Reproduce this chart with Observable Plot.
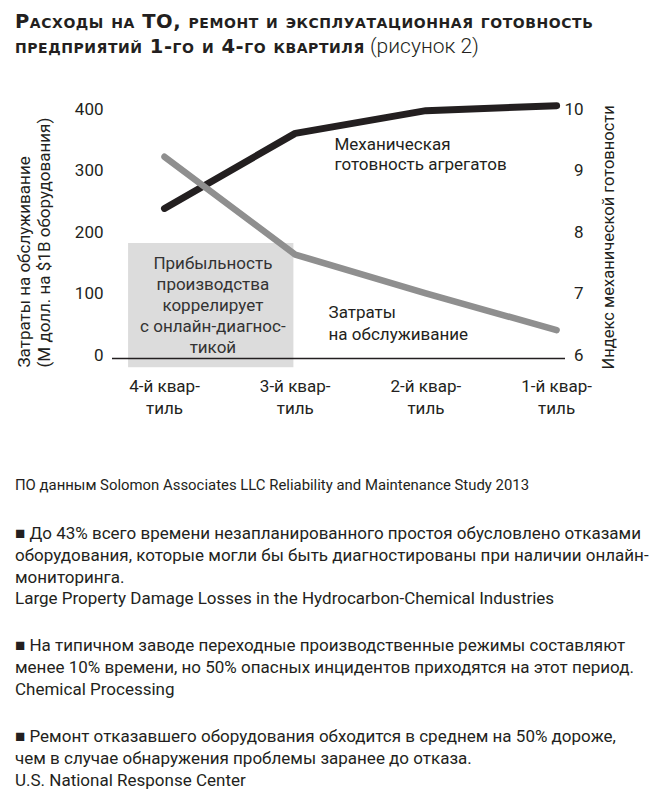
<!DOCTYPE html>
<html>
<head>
<meta charset="utf-8">
<script src="https://cdn.jsdelivr.net/npm/d3@7"></script>
<script src="https://cdn.jsdelivr.net/npm/@observablehq/plot@0.6"></script>
<style>
  html, body { margin: 0; padding: 0; background: #fff; }
  body { width: 650px; height: 791px; position: relative; overflow: hidden; color: #231f20; font-family: Roboto, sans-serif; }
  .title { position: absolute; left: 15px; top: 10px; font-family: "DejaVu Sans", sans-serif; font-weight: bold; font-variant: small-caps; font-size: 19.5px; letter-spacing: 0.55px; line-height: 24px; white-space: nowrap; color: #231f20; }
  .title .fig { font-family: Roboto, sans-serif; font-weight: 300; font-variant: normal; letter-spacing: 0; font-size: 21px; }
  #chart { position: absolute; left: 0; top: 62px; }
  .note { position: absolute; left: 15px; white-space: nowrap; font-size: 17px; line-height: 21.8px; color: #231f20; }
  .src { font-size: 14.9px; }
</style>
</head>
<body>
<div class="title" id="title"></div>
<div id="chart"></div>
<div class="note src" id="source" style="top:475px"></div>
<div class="note" id="b1" style="top:523px"></div>
<div class="note" id="b2" style="top:635px"></div>
<div class="note" id="b3" style="top:726px"></div>
<script>
// ---- data ----
const quartiles = ["4-й квар-\nтиль", "3-й квар-\nтиль", "2-й квар-\nтиль", "1-й квар-\nтиль"];
const quartileIndex = [0, 1, 2, 3];
const maintenanceCost = [328, 169, 106, 46];               // M$ per $1B equipment (left axis)
const mechanicalAvailability = [8.44, 9.66, 10.03, 10.11]; // index (right axis)
const costTicks = [0, 100, 200, 300, 400];
const availabilityTicks = [6, 7, 8, 9, 10];

const titleLine1 = "Расходы на ТО, ремонт и эксплуатационная готовность";
const titleLine2 = "предприятий 1-го и 4-го квартиля";
const titleFig = " (рисунок 2)";
const yLabelLeft = "Затраты на обслуживание\n(М долл. на $1B оборудования)";
const yLabelRight = "Индекс механической готовности";
const boxText = "Прибыльность\nпроизводства\nкоррелирует\nс онлайн-диагнос-\nтикой";
const availabilityLabel = "Механическая\nготовность агрегатов";
const costLabel = "Затраты\nна обслуживание";
const sourceText = "ПО данным Solomon Associates LLC Reliability and Maintenance Study 2013";
const bullet1 = ["■ До 43% всего времени незапланированного простоя обусловлено отказами",
  "оборудования, которые могли бы быть диагностированы при наличии онлайн-",
  "мониторинга.",
  "Large Property Damage Losses in the Hydrocarbon-Chemical Industries"];
const bullet2 = ["■ На типичном заводе переходные производственные режимы составляют",
  "менее 10% времени, но 50% опасных инцидентов приходятся на этот период.",
  "Chemical Processing"];
const bullet3 = ["■ Ремонт отказавшего оборудования обходится в среднем на 50% дороже,",
  "чем в случае обнаружения проблемы заранее до отказа.",
  "U.S. National Response Center"];

// ---- derived tables ----
const toLeft = v => (v - 6) * 100; // right-axis index mapped onto the left scale
const costData = quartileIndex.map((i, k) => ({i, v: maintenanceCost[k]}));
const availData = quartileIndex.map((i, k) => ({i, v: toLeft(mechanicalAvailability[k])}));

document.getElementById("title").innerHTML =
  titleLine1 + "<br>" + titleLine2 + '<span class="fig">' + titleFig + "</span>";
document.getElementById("source").textContent = sourceText;
document.getElementById("b1").innerHTML = bullet1.join("<br>");
document.getElementById("b2").innerHTML = bullet2.join("<br>");
document.getElementById("b3").innerHTML = bullet3.join("<br>");

const ink = "#231f20";
const chart = Plot.plot({
  width: 650,
  height: 360,
  marginLeft: 112,
  marginRight: 85,
  marginTop: 50,
  marginBottom: 64,
  x: {type: "linear", domain: [-0.398, 3.068], axis: null},
  y: {domain: [0, 400], axis: null},
  style: {fontFamily: "Roboto, sans-serif", fontSize: "17px", color: ink, background: "transparent"},
  marks: [
    Plot.rect([{x1: -0.275, x2: 0.99, y1: -15, y2: 187}], {x1: "x1", x2: "x2", y1: "y1", y2: "y2", fill: "#dcdcdc"}),
    Plot.ruleY([0], {stroke: ink, strokeWidth: 1.3}),
    Plot.axisY({anchor: "left", ticks: costTicks, tickSize: 0, tickPadding: 9, dy: -3, label: null, fontSize: 17}),
    Plot.axisY({anchor: "right", ticks: availabilityTicks.map(toLeft), tickFormat: d => String(d / 100 + 6),
      tickSize: 0, tickPadding: 18, textAnchor: "end", dy: -3, label: null, fontSize: 17}),
    Plot.axisX({anchor: "bottom", ticks: quartileIndex, tickFormat: i => quartiles[i], tickSize: 0, tickPadding: 18,
      lineHeight: 1.3, label: null, fontSize: 17}),
    Plot.text([boxText], {x: () => 0.37, y: () => 88, text: d => d, lineHeight: 21 / 17, fill: "#333", fontSize: 17}),
    Plot.line(availData, {x: "i", y: "v", stroke: ink, strokeWidth: 7, strokeLinecap: "round", strokeLinejoin: "round"}),
    Plot.line(costData, {x: "i", y: "v", stroke: "#8f8f8f", strokeWidth: 6.5, strokeLinecap: "round", strokeLinejoin: "round"}),
    Plot.text([availabilityLabel], {x: () => 1.30, y: () => 333, text: d => d, textAnchor: "start", lineHeight: 20 / 17, fontSize: 17}),
    Plot.text([costLabel], {x: () => 1.255, y: () => 59, text: d => d, textAnchor: "start", lineHeight: 22 / 17, fontSize: 17}),
    Plot.text([yLabelLeft], {frameAnchor: "bottom-left", text: d => d, rotate: -90, textAnchor: "start",
      lineHeight: 20 / 17, dx: -63, dy: 9, fontSize: 17}),
    Plot.text([yLabelRight], {frameAnchor: "bottom-right", text: d => d, rotate: -90, textAnchor: "start",
      dx: 48, dy: 11, fontSize: 16.5})
  ]
});
document.getElementById("chart").appendChild(chart);
</script>
</body>
</html>
